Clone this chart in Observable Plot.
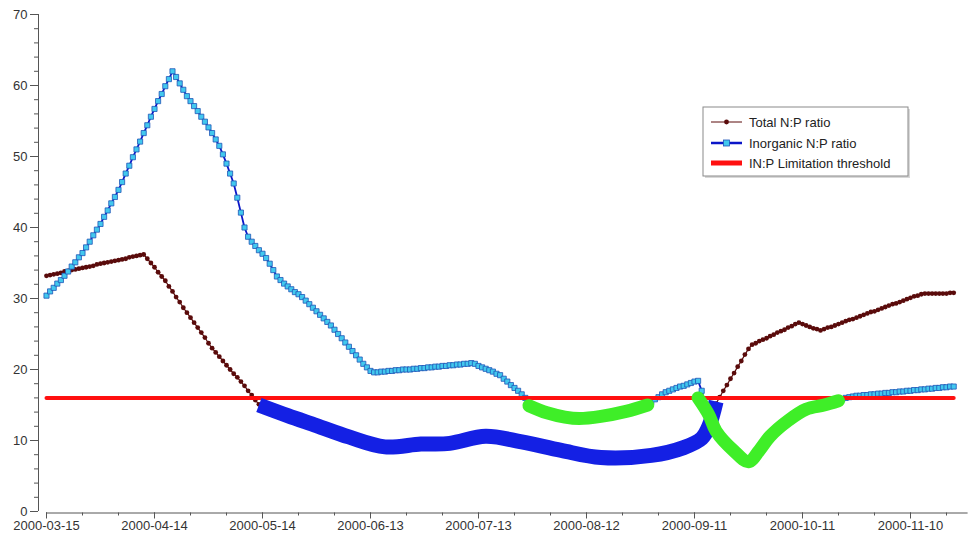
<!DOCTYPE html>
<html><head><meta charset="utf-8">
<script src="https://cdn.jsdelivr.net/npm/d3@7"></script>
<script src="https://cdn.jsdelivr.net/npm/@observablehq/plot@0.6"></script>
<style>
html,body{margin:0;padding:0;background:#fff;overflow:hidden}
#chart{width:972px;height:536px}
</style></head><body><div id="chart"></div>
<script>
// ---- data ----
const startDate = "2000-03-15"; // first daily value; one value per day
const totalNP = [
33.2,33.3,33.4,33.5,33.6,33.8,33.9,34.0,34.1,34.2,34.3,34.4,34.5,34.6,34.8,34.9,35.0,35.1,35.2,35.3,35.4,35.5,35.6,35.8,35.9,36.0,36.1,36.2,
35.6,35.0,34.4,33.7,33.1,32.5,31.7,31.0,30.2,29.5,28.7,28.0,27.3,26.6,25.9,25.2,24.5,23.7,23.0,22.4,21.8,21.2,20.6,20.0,19.4,18.9,18.3,17.7,17.0,16.4,15.7,15.1,
14.9,14.7,14.5,14.3,14.1,13.9,13.7,13.5,13.4,13.2,13.1,12.9,12.8,12.7,12.5,12.4,12.3,12.1,11.9,11.7,
11.5,11.3,11.1,10.9,10.7,10.5,10.3,10.1,9.9,9.7,9.5,9.4,9.2,9.1,9.1,9.1,9.1,9.2,9.2,9.3,
9.3,9.4,9.4,9.5,9.5,9.5,9.5,9.5,9.5,9.5,9.6,9.6,9.6,9.7,9.8,9.9,10.0,10.1,10.2,10.3,
10.4,10.5,10.6,10.6,10.6,10.5,10.4,10.3,10.2,10.1,10.0,9.9,9.8,9.7,9.6,9.5,9.4,9.3,9.2,9.1,
8.9,8.8,8.7,8.6,8.5,8.4,8.3,8.2,8.1,8.0,7.9,7.8,7.7,7.7,7.6,7.6,7.6,7.6,7.6,7.6,
7.7,7.7,7.7,7.7,7.8,7.8,7.8,7.9,7.9,8.0,8.1,8.2,8.3,8.5,8.6,8.7,8.9,9.0,9.2,9.5,
9.8,10.1,10.6,11.3,12.5,13.8,15.2,
16.1,17.0,17.8,18.7,19.5,20.4,21.2,22.1,22.9,23.5,
23.7,24.0,24.2,24.4,24.7,24.9,25.2,25.4,25.6,25.9,26.1,26.4,26.6,
26.4,26.2,26.0,25.8,25.7,25.5,
25.7,25.9,26.0,26.2,26.4,26.6,26.8,27.0,27.1,27.3,27.5,27.7,27.9,28.1,28.2,28.4,28.6,28.8,29.0,29.2,29.3,29.5,29.7,29.9,30.1,30.3,30.4,30.6,30.7,
30.7,30.7,30.7,30.7,30.7,30.7,30.8,30.8
];
const inorganicNP = [
30.4,31.0,31.5,32.1,32.6,33.2,33.8,34.5,35.1,35.8,36.4,37.2,38.0,38.9,39.7,40.5,41.5,42.4,43.4,44.3,45.3,46.4,47.6,48.7,49.9,51.0,52.1,53.3,54.4,55.6,56.7,57.8,58.8,59.9,60.9,62.0,
61.2,60.3,59.4,58.5,57.8,57.1,56.4,55.6,54.9,54.1,53.3,52.4,51.5,50.3,49.0,47.6,46.2,44.2,42.1,40.0,38.7,38.0,37.4,36.8,36.3,35.7,34.9,34.0,
33.1,32.6,32.1,31.7,31.3,30.9,30.6,30.2,29.7,29.2,28.7,28.2,27.7,27.2,26.7,26.2,25.6,25.0,24.4,23.8,23.2,22.6,22.0,21.4,20.8,20.3,19.8,19.6,
19.6,19.7,19.7,19.8,19.8,19.9,19.9,20.0,20.0,20.0,20.1,20.1,20.2,20.2,20.3,20.3,20.4,20.4,20.5,20.5,20.6,20.6,20.7,20.7,20.8,20.8,20.9,
20.8,20.5,20.3,20.1,19.9,19.7,19.4,19.2,18.7,18.3,17.8,17.4,17.0,16.5,16.0,15.4,14.9,14.5,14.2,14.0,13.8,13.7,13.5,13.4,13.3,13.2,13.2,13.1,13.1,13.1,13.1,13.2,13.2,13.3,13.4,13.4,13.5,13.6,13.7,13.8,13.9,14.0,14.1,14.3,14.4,14.6,14.7,14.9,
15.1,15.4,15.8,16.1,16.5,16.8,17.0,17.2,17.4,17.6,17.7,17.9,18.1,18.3,18.4,
17.0,15.0,13.3,12.4,11.6,10.9,10.3,9.6,9.0,8.4,8.0,7.6,7.3,7.0,7.5,8.1,8.7,9.3,9.9,10.5,11.0,11.5,12.0,12.4,12.8,13.1,13.4,13.7,14.0,14.3,14.5,14.6,14.7,14.8,15.0,15.1,15.3,15.4,15.6,
15.8,16.0,16.1,16.2,16.3,16.3,16.4,16.4,16.5,16.5,16.6,16.6,16.7,16.7,16.8,16.8,16.9,16.9,17.0,17.0,17.1,17.1,17.2,17.2,17.3,17.3,17.4,17.4,17.5,17.5,17.6,17.6
];
const thresholdValue = 16;
const thresholdDates = ["2000-03-15", "2000-11-22"];
// hand-drawn highlight strokes
const blueMarkDates = ["2000-05-13","2000-05-21","2000-05-29","2000-06-07","2000-06-17","2000-06-27","2000-07-05","2000-07-15","2000-07-25","2000-08-05","2000-08-16","2000-08-30","2000-09-08","2000-09-13","2000-09-15","2000-09-17"];
const blueMarkValues = [15.0,13.5,12.1,10.5,9.1,9.5,9.6,10.6,9.8,8.6,7.6,7.9,9.0,10.3,12.0,15.5];
const greenMarkADates = ["2000-07-27","2000-08-01","2000-08-06","2000-08-10","2000-08-16","2000-08-23","2000-08-29"];
const greenMarkAValues = [14.9,13.9,13.3,13.1,13.4,14.1,15.0];
const greenMarkBDates = ["2000-09-12","2000-09-15","2000-09-17","2000-09-22","2000-09-26","2000-09-29","2000-10-02","2000-10-07","2000-10-12","2000-10-17","2000-10-21"];
const greenMarkBValues = [16.0,13.6,11.3,8.5,7.0,8.6,10.6,12.8,14.4,15.0,15.6];
const xTickLabels = ["2000-03-15","2000-04-14","2000-05-14","2000-06-13","2000-07-13","2000-08-12","2000-09-11","2000-10-11","2000-11-10"];
const xDomain = ["2000-03-15","2000-11-26"];
const yTicks = [0,10,20,30,40,50,60,70];
const legendLabels = ["Total N:P ratio","Inorganic N:P ratio","IN:P Limitation threshold"];

// ---- build ----
const parse = d3.utcParse("%Y-%m-%d");
const t0 = parse(startDate);
const totalData = totalNP.map((v, i) => ({date: d3.utcDay.offset(t0, i), value: v}));
const inorgData = inorganicNP.map((v, i) => ({date: d3.utcDay.offset(t0, i), value: v}));
const thrData = thresholdDates.map(d => ({date: parse(d), value: thresholdValue}));
const zip = (ds, vs) => ds.map((d, i) => ({date: parse(d), value: vs[i]}));
const blueData = zip(blueMarkDates, blueMarkValues);
const greenA = zip(greenMarkADates, greenMarkAValues);
const greenB = zip(greenMarkBDates, greenMarkBValues);
const xMajor = xTickLabels.map(parse);
const xMinor = d3.utcDay.range(t0, parse(xDomain[1]), 1).filter((d, i) => i % 10 === 0);
const yMinor = d3.range(0, 71, 2);

const C_TOTAL = "#5a0b0b", C_LINE = "#0b16c8", C_SQ = "#42c8ee", C_SQS = "#1f56b8", C_RED = "#ff1010", C_BLUE = "#1420e4", C_GREEN = "#3fee28";
const font = "'Liberation Sans', Arial, Helvetica, sans-serif";

const plot = Plot.plot({
  width: 972, height: 536,
  marginLeft: 46, marginRight: 4.4, marginTop: 14, marginBottom: 25,
  x: {type: "utc", domain: xDomain.map(parse), label: null},
  y: {domain: [0, 70], label: null},
  style: {fontFamily: font, fontSize: "13px", color: "#333", background: "#fff"},
  marks: [
    Plot.ruleX([t0], {y1: 0, y2: 70, dx: -8, stroke: "#555", strokeWidth: 1}),
    Plot.axisY({ticks: yMinor, tickSize: 4, dx: -8, tickFormat: () => "", stroke: "#555"}),
    Plot.axisY({ticks: yTicks, tickSize: 8, dx: -8, tickPadding: 3, stroke: "#555", fill: "#333", fontSize: 13}),
    Plot.ruleY([0], {dy: 1.5, stroke: "#555", strokeWidth: 1}),
    Plot.axisX({ticks: xMinor, tickSize: 3, dy: 1.5, tickFormat: () => "", stroke: "#555"}),
    Plot.axisX({ticks: xMajor, tickSize: 6, dy: 1.5, tickPadding: 2, tickFormat: d3.utcFormat("%Y-%m-%d"), stroke: "#555", fill: "#333", fontSize: 13}),
    Plot.line(totalData, {x: "date", y: "value", stroke: C_TOTAL, strokeWidth: 1.2}),
    Plot.dot(totalData, {x: "date", y: "value", r: 2.4, fill: C_TOTAL, stroke: "none"}),
    Plot.line(inorgData, {x: "date", y: "value", stroke: C_LINE, strokeWidth: 1.8}),
    Plot.dot(inorgData, {x: "date", y: "value", symbol: "square", r: 2.9, fill: C_SQ, stroke: C_SQS, strokeWidth: 0.8}),
    Plot.line(thrData, {x: "date", y: "value", stroke: C_RED, strokeWidth: 4}),
    Plot.line(blueData, {x: "date", y: "value", curve: "catmull-rom", stroke: C_BLUE, strokeWidth: 15, strokeLinecap: "butt", strokeLinejoin: "round"}),
    Plot.line(greenA, {x: "date", y: "value", curve: "catmull-rom", stroke: C_GREEN, strokeWidth: 13, strokeLinecap: "round", strokeLinejoin: "round"}),
    Plot.line(greenB, {x: "date", y: "value", curve: "catmull-rom", stroke: C_GREEN, strokeWidth: 13, strokeLinecap: "round", strokeLinejoin: "round"})
  ]
});
document.getElementById("chart").appendChild(plot);

// legend
const svg = d3.select(plot);
const g = svg.append("g").attr("font-family", font).attr("font-size", 13).attr("fill", "#222").attr("text-anchor", "start");
g.append("rect").attr("x", 705).attr("y", 109).attr("width", 205).attr("height", 69).attr("fill", "#d8d8d8");
g.append("rect").attr("x", 703).attr("y", 107).attr("width", 205).attr("height", 69).attr("fill", "#fff").attr("stroke", "#8a8a8a");
const rowsY = [122, 143, 163];
const lx1 = 711, lx2 = 742, lxm = (lx1 + lx2) / 2;
g.append("line").attr("x1", lx1).attr("x2", lx2).attr("y1", rowsY[0]).attr("y2", rowsY[0]).attr("stroke", C_TOTAL).attr("stroke-width", 1);
g.append("circle").attr("cx", lxm).attr("cy", rowsY[0]).attr("r", 2.4).attr("fill", C_TOTAL);
g.append("line").attr("x1", lx1).attr("x2", lx2).attr("y1", rowsY[1]).attr("y2", rowsY[1]).attr("stroke", C_LINE).attr("stroke-width", 2.5);
g.append("rect").attr("x", lxm - 3).attr("y", rowsY[1] - 3).attr("width", 6).attr("height", 6).attr("fill", C_SQ).attr("stroke", C_SQS).attr("stroke-width", 0.8);
g.append("line").attr("x1", lx1).attr("x2", lx2).attr("y1", rowsY[2]).attr("y2", rowsY[2]).attr("stroke", C_RED).attr("stroke-width", 5);
legendLabels.forEach((t, i) => {
  g.append("text").attr("x", 749).attr("y", rowsY[i]).attr("dy", "0.35em").attr("text-anchor", "start").text(t);
});
</script></body></html>
